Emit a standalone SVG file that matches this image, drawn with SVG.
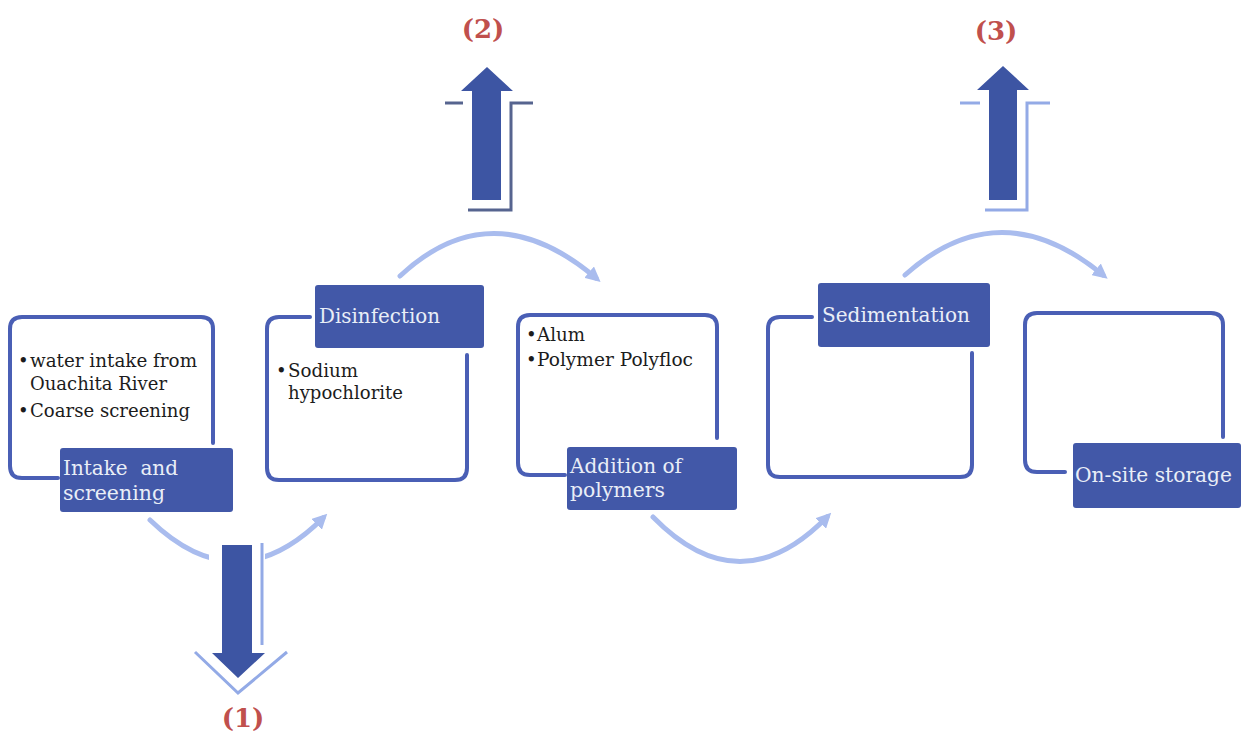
<svg xmlns="http://www.w3.org/2000/svg" width="1241" height="733" viewBox="0 0 1241 733">
<style>
.frame{fill:none;stroke:#4a5fb5;stroke-width:4;stroke-linecap:round}
.lbl{fill:#4258a8}
.lt{font-family:"DejaVu Serif","Liberation Serif",serif;font-size:20.5px;fill:#e9eef7}
.bt{font-family:"DejaVu Serif","Liberation Serif",serif;font-size:18px;fill:#1c1c1c}
.curve{fill:none;stroke:#a9bcee;stroke-width:5;stroke-linecap:round}
.big{fill:#3d55a3}
.num{font-family:"DejaVu Serif","Liberation Serif",serif;font-size:26px;font-weight:bold;fill:#c0504d;text-anchor:middle}
.ol{fill:none;stroke-width:3}
</style>
<defs>
<marker id="ah" viewBox="0 0 10 10" refX="6" refY="5" markerWidth="3" markerHeight="3" orient="auto" markerUnits="strokeWidth">
<path d="M0,0 L10,5 L0,10 z" fill="#a9bcee"/>
</marker>
</defs>
<rect width="1241" height="733" fill="#fff"/>
<g id="connectors">
<path class="curve" d="M150,520 Q237,604 323,518" marker-end="url(#ah)"/>
<path class="curve" d="M400,276 Q492,190 596,278" marker-end="url(#ah)"/>
<path class="curve" d="M653,517 Q740,606 827,517" marker-end="url(#ah)"/>
<path class="curve" d="M905,275 Q1000,190 1103,275" marker-end="url(#ah)"/>
</g>
<g id="out1">
<rect x="209" y="540" width="56" height="34" fill="#fff"/>
<polyline class="ol" stroke="#93aae6" points="195,652 238,693 287,652"/>
<line class="ol" stroke="#93aae6" x1="262" y1="543" x2="262" y2="645"/>
<polygon class="big" points="222,545 252,545 252,653 265,653 238,678 212,653 222,653"/>
<text class="num" x="243" y="727">(1)</text>
</g>
<g id="out2">
<polyline class="ol" stroke="#56648f" points="445,103 463,103"/>
<polyline class="ol" stroke="#56648f" points="468,210 511,210 511,103 533,103"/>
<polygon class="big" points="472,200 501,200 501,91 513,91 487,67 461,91 472,91"/>
<text class="num" x="483" y="38">(2)</text>
</g>
<g id="out3">
<polyline class="ol" stroke="#93aae6" points="960,103 980,103"/>
<polyline class="ol" stroke="#93aae6" points="985,210 1027,210 1027,103 1050,103"/>
<polygon class="big" points="989,200 1017,200 1017,90 1029,90 1003,66 977,90 989,90"/>
<text class="num" x="996" y="40">(3)</text>
</g>
<g id="node1">
<path class="frame" d="M213,443 V329 Q213,317 201,317 H22 Q10,317 10,329 V466 Q10,478 22,478 H58"/>
<text class="bt" x="18" y="367">•</text>
<text class="bt" x="30" y="367" textLength="167" lengthAdjust="spacingAndGlyphs">water intake from</text>
<text class="bt" x="30" y="390" textLength="137" lengthAdjust="spacingAndGlyphs">Ouachita River</text>
<text class="bt" x="18" y="417">•</text>
<text class="bt" x="30" y="417" textLength="160" lengthAdjust="spacingAndGlyphs">Coarse screening</text>
<rect class="lbl" x="60" y="448" width="173" height="64" rx="3"/>
<text class="lt" x="63" y="475" textLength="115" lengthAdjust="spacingAndGlyphs">Intake&#160; and</text>
<text class="lt" x="63" y="500" textLength="102" lengthAdjust="spacingAndGlyphs">screening</text>
</g>
<g id="node2">
<path class="frame" d="M310,317 H279 Q267,317 267,329 V468 Q267,480 279,480 H455 Q467,480 467,468 V355"/>
<rect class="lbl" x="315" y="285" width="169" height="63" rx="3"/>
<text class="lt" x="319" y="323" textLength="121" lengthAdjust="spacingAndGlyphs">Disinfection</text>
<text class="bt" x="276" y="377">•</text>
<text class="bt" x="288" y="377" textLength="70" lengthAdjust="spacingAndGlyphs">Sodium</text>
<text class="bt" x="288" y="399" textLength="115" lengthAdjust="spacingAndGlyphs">hypochlorite</text>
</g>
<g id="node3">
<path class="frame" d="M717,438 V327 Q717,315 705,315 H530 Q518,315 518,327 V463 Q518,475 530,475 H565"/>
<text class="bt" x="526" y="341">•</text>
<text class="bt" x="537" y="341" textLength="48" lengthAdjust="spacingAndGlyphs">Alum</text>
<text class="bt" x="526" y="366">•</text>
<text class="bt" x="537" y="366" textLength="156" lengthAdjust="spacingAndGlyphs">Polymer Polyfloc</text>
<rect class="lbl" x="567" y="447" width="170" height="63" rx="3"/>
<text class="lt" x="570" y="473" textLength="112" lengthAdjust="spacingAndGlyphs">Addition of</text>
<text class="lt" x="570" y="497" textLength="95" lengthAdjust="spacingAndGlyphs">polymers</text>
</g>
<g id="node4">
<path class="frame" d="M812,317 H780 Q768,317 768,329 V465 Q768,477 780,477 H960 Q972,477 972,465 V353"/>
<rect class="lbl" x="818" y="283" width="172" height="64" rx="3"/>
<text class="lt" x="822" y="322" textLength="148" lengthAdjust="spacingAndGlyphs">Sedimentation</text>
</g>
<g id="node5">
<path class="frame" d="M1223,437 V325 Q1223,313 1211,313 H1037 Q1025,313 1025,325 V460 Q1025,472 1037,472 H1065"/>
<rect class="lbl" x="1073" y="443" width="168" height="65" rx="3"/>
<text class="lt" x="1075" y="482" textLength="157" lengthAdjust="spacingAndGlyphs">On-site storage</text>
</g>
</svg>
